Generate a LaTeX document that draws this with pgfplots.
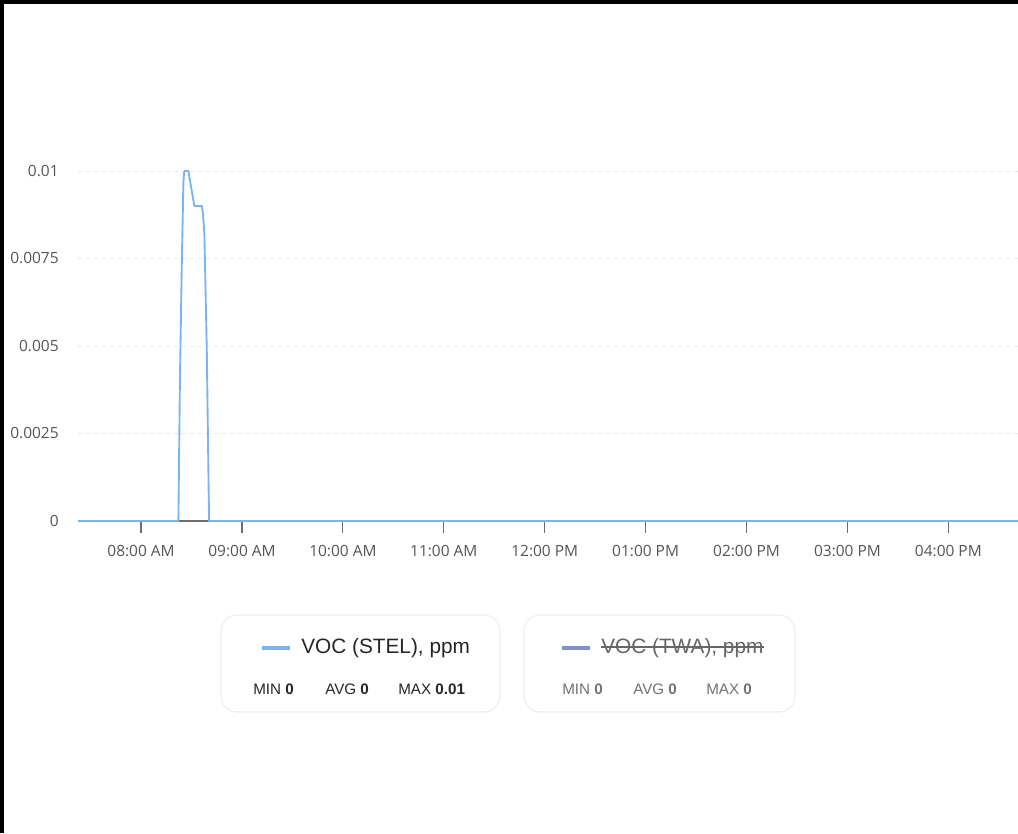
\documentclass[border=0pt]{standalone}
\usepackage{fontspec}
\setmainfont{Open Sans}
\newfontfamily\legfont{Liberation Sans}
\usepackage{pgfplots}
\pgfplotsset{compat=1.18}

\definecolor{stel}{RGB}{124,181,236}
\definecolor{twa}{RGB}{123,147,198}
\definecolor{ticktext}{RGB}{85,85,85}
\definecolor{axisgray}{RGB}{110,110,110}
\definecolor{gridgray}{RGB}{232,232,232}
\definecolor{boxgray}{RGB}{238,238,238}

\pgfplotstableread{
h      v
7.375  0
8.3697 0
8.385  0.0040
8.4034 0.0073
8.4192 0.00965
8.4260 0.00995
8.4320 0.0100
8.4700 0.0100
8.4770 0.00985
8.5282 0.0090
8.6016 0.0090
8.6130 0.0088
8.6274 0.0082
8.6511 0.0049
8.6739 0
16.69  0
}\stel

\begin{document}
\begin{tikzpicture}[x=0.75pt,y=0.75pt]
% page frame (1018 x 833 px)
\path[use as bounding box] (0,0) rectangle (1018,833);
\fill[black] (0,829) rectangle (1018,833);
\fill[black] (0,0) rectangle (4,833);

\begin{axis}[
    at={(58.5pt,234pt)},
    anchor=origin,
    scale only axis,
    width=705pt,
    height=262.5pt,
    xmin=7.375, xmax=16.69,
    ymin=0, ymax=0.01,
    clip=false,
    scaled y ticks=false,
    axis x line=bottom,
    axis y line=left,
    y axis line style={draw=none},
    x axis line style={draw=axisgray, line width=1.5pt, -},
    xtick={8,9,10,11,12,13,14,15,16},
    xticklabels={08:00 AM,09:00 AM,10:00 AM,11:00 AM,12:00 PM,01:00 PM,02:00 PM,03:00 PM,04:00 PM},
    ytick={0,0.0025,0.005,0.0075,0.01},
    yticklabels={0,0.0025,0.005,0.0075,0.01},
    xtick style={draw=axisgray, line width=0.9pt},
    major tick length=9pt,
    ytick style={draw=none},
    tick align=outside,
    ymajorgrids,
    major grid style={draw=gridgray, dash pattern=on 3pt off 3pt, line width=0.6pt},
    ticklabel style={font=\fontsize{11.6}{13}\selectfont, text=ticktext},
    yticklabel style={anchor=east},
    yticklabel shift=2pt,
    xticklabel shift=6pt,
    /pgf/number format/assume math mode=true,
]
\addplot[stel, line width=1.4pt, line join=round] table[x=h, y=v] {\stel};
\end{axis}

% legend boxes
\draw[boxgray, line width=0.8pt, fill=white, rounded corners=12pt] (221,121) rectangle (500,218);
\draw[boxgray, line width=0.8pt, fill=white, rounded corners=12pt] (524,121) rectangle (795,218);

% box 1
\draw[stel, line width=2.4pt] (262,185) -- (290,185);
\node[anchor=west, inner sep=0pt, text=black!85, font=\legfont\fontsize{15.6}{17}\selectfont] at (301,185) {VOC (STEL), ppm};
\node[anchor=west, inner sep=0pt, text=black!85, font=\legfont\fontsize{11.4}{13}\selectfont] at (253,144) {MIN \textbf{0}};
\node[anchor=west, inner sep=0pt, text=black!85, font=\legfont\fontsize{11.4}{13}\selectfont] at (325,144) {AVG \textbf{0}};
\node[anchor=west, inner sep=0pt, text=black!85, font=\legfont\fontsize{11.4}{13}\selectfont] at (398,144) {MAX \textbf{0.01}};

% box 2 (hidden series)
\draw[twa, line width=2.4pt] (562,185) -- (590,185);
\node[anchor=west, inner sep=0pt, text=black!60, font=\legfont\fontsize{15.6}{17}\selectfont] (twa) at (601,185) {VOC (TWA), ppm};
\draw[black!60, line width=0.8pt] (twa.west |- 0,186) -- (twa.east |- 0,186);
\node[anchor=west, inner sep=0pt, text=black!55, font=\legfont\fontsize{11.4}{13}\selectfont] at (562,144) {MIN \textbf{0}};
\node[anchor=west, inner sep=0pt, text=black!55, font=\legfont\fontsize{11.4}{13}\selectfont] at (633,144) {AVG \textbf{0}};
\node[anchor=west, inner sep=0pt, text=black!55, font=\legfont\fontsize{11.4}{13}\selectfont] at (706,144) {MAX \textbf{0}};
\end{tikzpicture}
\end{document}
